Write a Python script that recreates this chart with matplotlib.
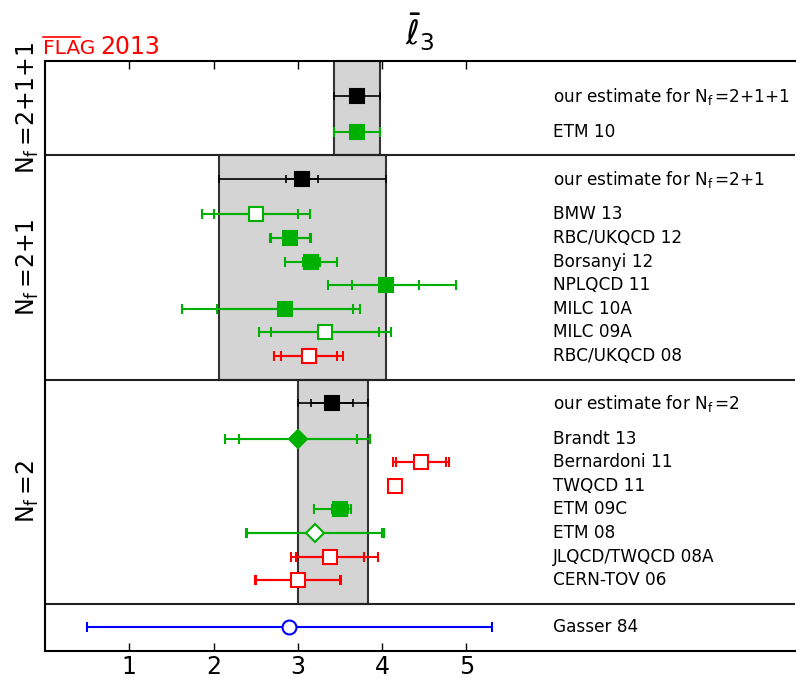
import matplotlib.pyplot as plt
from matplotlib.lines import Line2D
from matplotlib.patches import Rectangle
from matplotlib.transforms import blended_transform_factory

# results for l3-bar, top to bottom
names = [r'our estimate for $\mathrm{N_f}\,$=2+1+1', 'ETM 10',
         r'our estimate for $\mathrm{N_f}\,$=2+1', 'BMW 13', 'RBC/UKQCD 12',
         'Borsanyi 12', 'NPLQCD 11', 'MILC 10A', 'MILC 09A', 'RBC/UKQCD 08',
         r'our estimate for $\mathrm{N_f}\,$=2', 'Brandt 13', 'Bernardoni 11',
         'TWQCD 11', 'ETM 09C', 'ETM 08', 'JLQCD/TWQCD 08A', 'CERN-TOV 06',
         'Gasser 84']
value = [3.70, 3.70, 3.05, 2.50, 2.91, 3.16, 4.04, 2.85, 3.32, 3.13,
         3.41, 3.00, 4.46, 4.149, 3.50, 3.20, 3.38, 3.00, 2.90]
err_stat = [0.0, 0.07, 0.19, 0.50, 0.23, 0.10, 0.40, 0.81, 0.64, 0.33,
            0.25, 0.70, 0.30, 0.035, 0.09, 0.80, 0.40, 0.50, 0.0]
err_lo = [0.27, 0.27, 0.99, 0.64, 0.24, 0.31, 0.68, 1.23, 0.78, 0.41,
          0.41, 0.86, 0.33, 0.038, 0.31, 0.82, 0.46, 0.51, 2.40]
err_hi = [0.27, 0.27, 0.99, 0.64, 0.24, 0.31, 0.84, 0.89, 0.78, 0.41,
          0.42, 0.86, 0.33, 0.038, 0.13, 0.82, 0.57, 0.51, 2.40]
colors = ['k', 'g', 'k', 'g', 'g', 'g', 'g', 'g', 'g', 'r',
          'k', 'g', 'r', 'r', 'g', 'g', 'r', 'r', 'b']
markers = ['s', 's', 's', 's', 's', 's', 's', 's', 's', 's',
           's', 'D', 's', 's', 's', 'D', 's', 's', 'o']
filled = [True, True, True, False, True, True, True, True, False, False,
          True, True, False, False, True, False, False, False, False]

section_sizes = [2, 8, 8, 1]
section_labels = [r'$\mathrm{N_f}\,$=2+1+1', r'$\mathrm{N_f}\,$=2+1', r'$\mathrm{N_f}\,$=2', '']
estimate_rows = [0, 2, 10]

palette = {'k': 'black', 'g': '#00b000', 'r': '#ff0000', 'b': '#0000ff'}

# vertical layout: rows inside sections separated by horizontal lines
rows = []
bounds = []
y = 0.0
for k, n in enumerate(section_sizes):
    start = y
    y += 1.5 if k == 0 else 1.0
    rows.append(y)
    for i in range(1, n):
        y += 1.5 if i == 1 else 1.0
        rows.append(y)
    y += 1.0
    bounds.append((start, y))

fig = plt.figure(figsize=(7.96, 6.79), dpi=100)
ax = fig.add_axes([0.0565, 0.0412, 0.9425, 0.8689])

# grey bands = averaged estimates
for (start, end), r in zip(bounds[:3], estimate_rows):
    lo = value[r] - err_lo[r]
    hi = value[r] + err_hi[r]
    ax.add_patch(Rectangle((lo, start), hi - lo, end - start, facecolor='#d4d4d4',
                           edgecolor='#333333', lw=1.5, zorder=1))

for start, end in bounds[:-1]:
    ax.axhline(end, color='#222222', lw=1.5, zorder=2)

for i, yy in enumerate(rows):
    c = palette[colors[i]]
    ms = 9.5 if markers[i] == 'D' else (10 if markers[i] == 'o' else 10.5)
    lw = 1.2 if colors[i] == 'k' else 1.5
    cs = 3.0 if colors[i] == 'k' else 3.6
    ax.errorbar(value[i], yy, xerr=[[err_lo[i]], [err_hi[i]]], fmt='none',
                ecolor=c, elinewidth=lw, capsize=cs, capthick=lw, zorder=3)
    if err_stat[i] > 0:
        ax.errorbar(value[i], yy, xerr=err_stat[i], fmt='none',
                    ecolor=c, elinewidth=lw, capsize=cs, capthick=lw, zorder=3)
    ax.plot(value[i], yy, marker=markers[i], ms=ms, color=c,
            mfc=c if filled[i] else 'white', mec=c, mew=1.5, zorder=4)
    ax.text(6.03, yy, names[i], fontsize=12.2, va='center', ha='left', zorder=5)

trans = blended_transform_factory(ax.transAxes, ax.transData)
for (start, end), lab in zip(bounds, section_labels):
    if lab:
        ax.text(-0.023, 0.5 * (start + end), lab, transform=trans, rotation=90,
                fontsize=17, ha='center', va='center')

ax.set_xlim(0, 8.9)
ax.set_ylim(bounds[-1][1], 0)
ax.set_xticks([1, 2, 3, 4, 5])
ax.set_yticks([])
ax.tick_params(axis='x', direction='in', top=True, length=6, width=1,
               labelsize=17, pad=3)
ax.spines['right'].set_visible(False)
for s in ['left', 'top', 'bottom']:
    ax.spines[s].set_linewidth(1.5)

ax.set_title(r'$\bar{\ell}_3$', fontsize=24, pad=11)

# FLAG logo
fig.text(0.054, 0.9205, 'FLAG', color='red', fontsize=14.5, ha='left', va='baseline')
fig.text(0.1256, 0.9205, '2013', color='red', fontsize=17, ha='left', va='baseline')
fig.add_artist(Line2D([0.054, 0.1005], [0.9455, 0.9455], color='red', lw=1.2))

fig.savefig('out.png', dpi=100)
